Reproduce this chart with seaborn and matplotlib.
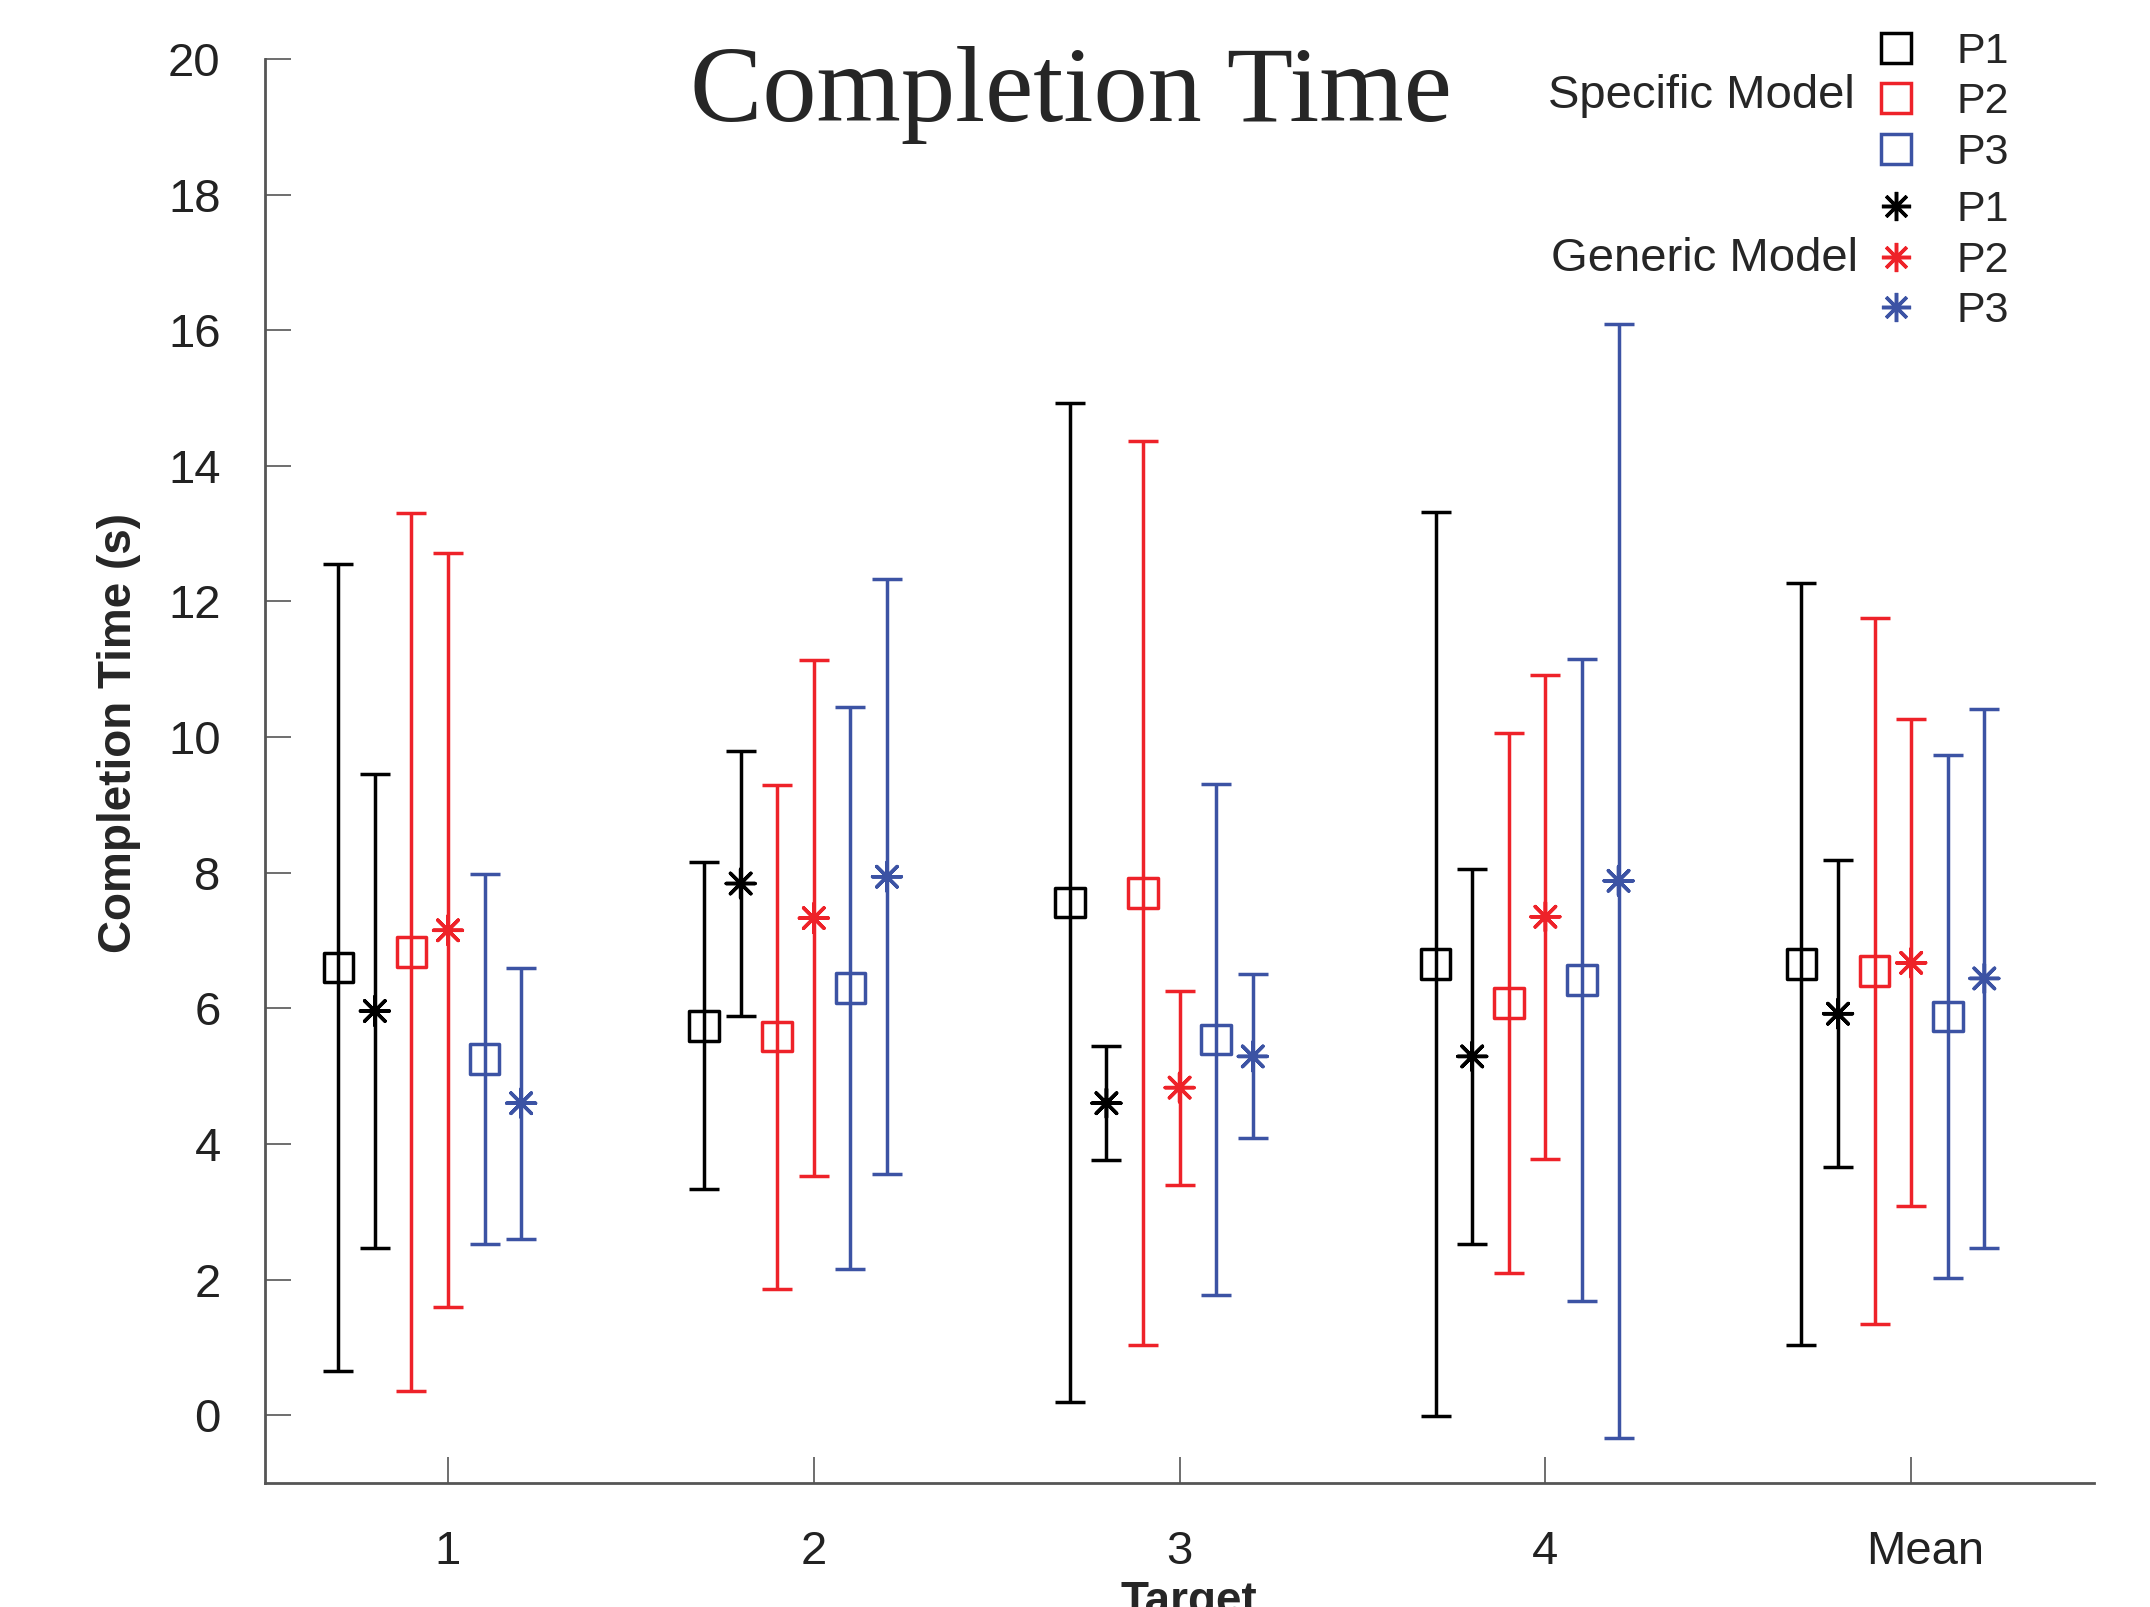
import numpy as np
import pandas as pd
import matplotlib
matplotlib.use("Agg")
import matplotlib.pyplot as plt
import seaborn as sns
from matplotlib.lines import Line2D
from matplotlib.transforms import ScaledTranslation

# categories
targets = ["1", "2", "3", "4", "Mean"]
participants = ["P1", "P2", "P3"]

# specific model: means and std per participant (columns = targets)
spec_mean = {
    "P1": [6.60, 5.74, 7.56, 6.65, 6.65],
    "P2": [6.83, 5.58, 7.70, 6.08, 6.55],
    "P3": [5.25, 6.30, 5.54, 6.42, 5.88],
}
spec_sd = {
    "P1": [5.95, 2.41, 7.37, 6.67, 5.62],
    "P2": [6.47, 3.72, 6.66, 3.98, 5.21],
    "P3": [2.73, 4.15, 3.77, 4.73, 3.86],
}
# generic model
gen_mean = {
    "P1": [5.96, 7.84, 4.60, 5.29, 5.92],
    "P2": [7.15, 7.33, 4.83, 7.35, 6.67],
    "P3": [4.60, 7.94, 5.29, 7.88, 6.44],
}
gen_sd = {
    "P1": [3.49, 1.96, 0.84, 2.76, 2.26],
    "P2": [5.56, 3.80, 1.43, 3.57, 3.59],
    "P3": [2.00, 4.39, 1.21, 8.21, 3.97],
}

colors = {"P1": "#000000", "P2": "#EE2229", "P3": "#3C53A4"}
# horizontal offsets inside a group
offsets = {("Specific", "P1"): -0.3, ("Generic", "P1"): -0.2,
           ("Specific", "P2"): -0.1, ("Generic", "P2"): 0.0,
           ("Specific", "P3"): 0.1, ("Generic", "P3"): 0.2}
star = (8, 2, 0)
LW = 2.5


def build_frame():
    rows = []
    for model, means, sds in [("Specific", spec_mean, spec_sd),
                              ("Generic", gen_mean, gen_sd)]:
        for p in participants:
            for i, t in enumerate(targets):
                rows.append({"model": model, "participant": p, "target": t,
                             "x": i + 1 + offsets[(model, p)],
                             "mean": means[p][i], "sd": sds[p][i]})
    return pd.DataFrame(rows)


def main():
    df = build_frame()
    sns.set_theme(style="ticks")
    plt.rcParams["font.family"] = ["Liberation Sans", "DejaVu Sans"]

    fig = plt.figure(figsize=(21.5, 16.07), dpi=100)
    ax = fig.add_axes([0.1233, 0.0772, 0.974 - 0.1233, 0.9633 - 0.0772])

    for (model, p), sub in df.groupby(["model", "participant"]):
        ax.errorbar(sub["x"], sub["mean"], yerr=sub["sd"], fmt="none",
                    ecolor=colors[p], elinewidth=LW, capsize=10.5,
                    capthick=LW, zorder=2)

    spec = df[df["model"] == "Specific"]
    sns.scatterplot(data=spec, x="x", y="mean", hue="participant",
                    palette=colors, marker="s", s=450, linewidth=LW,
                    legend=False, ax=ax, zorder=3)
    coll = ax.collections[-1]
    coll.set_edgecolors(coll.get_facecolors())
    coll.set_facecolors("none")

    gen = df[df["model"] == "Generic"]
    sns.scatterplot(data=gen, x="x", y="mean", hue="participant",
                    palette=colors, marker=star, s=430, linewidth=LW,
                    legend=False, ax=ax, zorder=3)

    ax.set_xlim(0.5, 5.5)
    ax.set_ylim(-1, 20)
    ax.set_yticks(np.arange(0, 21, 2))
    ax.set_xticks(np.arange(1, 6))
    ax.set_xticklabels(targets)
    ax.set_xlabel("")
    ax.set_ylabel("")
    ax.tick_params(axis="y", direction="in", length=19, width=1.2,
                   color="#555555", labelsize=34, pad=32, labelcolor="#222222")
    ax.tick_params(axis="x", direction="in", length=19, width=1.2,
                   color="#555555", labelsize=34, pad=34, labelcolor="#222222")
    # "Mean" sits a bit right of its tick in the original
    last = ax.get_xticklabels()[-1]
    last.set_transform(last.get_transform()
                       + ScaledTranslation(0.14, 0, fig.dpi_scale_trans))
    sns.despine(ax=ax)
    for side in ["left", "bottom"]:
        ax.spines[side].set_color("#555555")
        ax.spines[side].set_linewidth(2.0)

    fig.text(0.498, 0.925, "Completion Time", ha="center", va="baseline",
             fontsize=78, family=["Liberation Serif", "DejaVu Serif"])
    fig.text(0.0555, 0.544, "Completion Time (s)", rotation=90,
             ha="center", va="center", fontsize=33, fontweight="bold")
    fig.text(0.553, -0.0044, "Target", ha="center", va="baseline",
             fontsize=33, fontweight="bold")

    # legend
    spec_handles = [Line2D([], [], ls="none", marker="s", ms=22,
                           mfc="none", mec=colors[p], mew=LW)
                    for p in participants]
    gen_handles = [Line2D([], [], ls="none", marker=star, ms=21,
                          mec=colors[p], mew=LW)
                   for p in participants]
    kw = dict(frameon=False, fontsize=31, labelspacing=0.24,
              handlelength=1.0, handletextpad=0.9, borderpad=0,
              borderaxespad=0, loc="upper left",
              bbox_transform=fig.transFigure)
    leg1 = ax.legend(spec_handles, participants,
                     bbox_to_anchor=(0.8719, 0.9800), **kw)
    ax.add_artist(leg1)
    ax.legend(gen_handles, participants,
              bbox_to_anchor=(0.8719, 0.8815), **kw)
    fig.text(0.8628, 0.940, "Specific Model", ha="right", va="center",
             fontsize=34)
    fig.text(0.8640, 0.839, "Generic Model", ha="right", va="center",
             fontsize=34)

    fig.savefig("out.png", dpi=100)


if __name__ == "__main__":
    main()
